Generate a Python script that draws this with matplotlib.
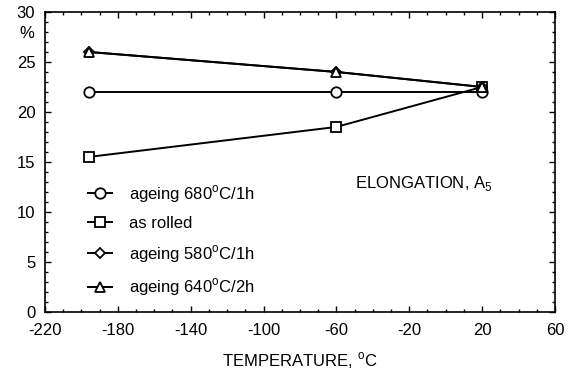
import matplotlib
matplotlib.use("Agg")
import matplotlib.pyplot as plt
from matplotlib.ticker import FixedLocator, MultipleLocator

plt.rcParams['font.family'] = ['Liberation Sans', 'DejaVu Sans']
plt.rcParams['mathtext.fontset'] = 'custom'
plt.rcParams['mathtext.rm'] = 'Liberation Sans'
plt.rcParams['axes.unicode_minus'] = False

temps = [-196, -60, 20]
ageing_680 = [22.0, 22.0, 22.0]
as_rolled = [15.5, 18.5, 22.5]
ageing_580 = [26.0, 24.0, 22.5]
ageing_640 = [26.0, 24.0, 22.5]

x_ticks = [-220, -180, -140, -100, -60, -20, 20, 60]
labels = ['ageing 680$^{\\rm o}$C/1h', 'as rolled',
          'ageing 580$^{\\rm o}$C/1h', 'ageing 640$^{\\rm o}$C/2h']

fig = plt.figure(figsize=(5.73, 3.74), dpi=100)
ax = fig.add_axes([0.0785, 0.166, 0.890, 0.802])

style = dict(color='black', lw=1.4, mfc='white', mec='black', mew=1.3)
ax.plot(temps, ageing_680, marker='o', ms=7.5, label=labels[0], **style)
ax.plot(temps, as_rolled, marker='s', ms=7.5, label=labels[1], **style)
ax.plot(temps, ageing_580, marker='D', ms=5, label=labels[2], **style)
ax.plot(temps, ageing_640, marker='^', ms=7.5, label=labels[3], **style)

ax.set_xlim(-220, 60)
ax.set_ylim(0, 30)
ax.xaxis.set_major_locator(FixedLocator(x_ticks))
ax.xaxis.set_minor_locator(MultipleLocator(10))
ax.yaxis.set_major_locator(MultipleLocator(5))
ax.yaxis.set_minor_locator(MultipleLocator(1))
ax.tick_params(which='both', direction='in', top=True, right=True,
               labelsize=12, width=1)
ax.tick_params(which='major', length=4)
ax.tick_params(which='minor', length=2.5)
ax.tick_params(axis='x', which='major', pad=8)
ax.tick_params(axis='y', which='major', pad=7)
for s in ax.spines.values():
    s.set_linewidth(1.2)

ax.set_xlabel('TEMPERATURE, $^{\\rm o}$C', fontsize=12, labelpad=9)
ax.text(-0.035, 0.927, '%', transform=ax.transAxes, fontsize=12,
        ha='center', va='center')
ax.text(-50, 12.8, 'ELONGATION, A$_5$', fontsize=12, ha='left', va='center')

ax.legend(loc='upper left', bbox_to_anchor=(0.084, 0.43), frameon=False,
          fontsize=12, handlelength=1.45, handletextpad=1.05, labelspacing=0.7,
          borderaxespad=0, borderpad=0)

fig.savefig('out.png', dpi=100)
